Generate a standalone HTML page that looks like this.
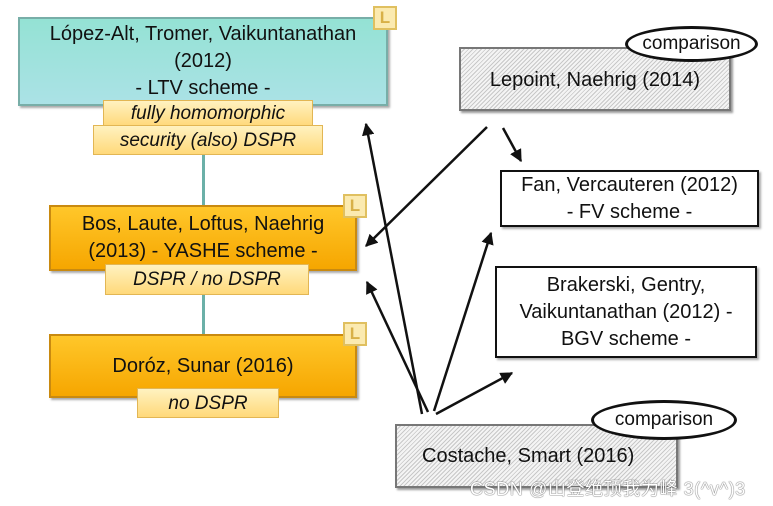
<!DOCTYPE html><html><head><meta charset="utf-8"><style>
body{margin:0;width:773px;height:506px;background:#fff;position:relative;overflow:hidden;font-family:"Liberation Sans",sans-serif;color:#111}
.b{position:absolute;box-sizing:border-box;display:flex;align-items:center;justify-content:center;text-align:center;font-size:20px;line-height:27px}
.teal{background:linear-gradient(#94e2d4,#abe2e6);border:2px solid #78aea8;box-shadow:2px 2px 2px #aaa}
.or{background:linear-gradient(#ffc72a,#f6a600);border:2px solid #c98a10;box-shadow:2px 2px 2px #aaa}
.lab{background:linear-gradient(#fff2c0,#ffd97a);border:1.5px solid #e2b654;font-style:italic;font-size:19px}
.w{background:#fff;border:2px solid #111;box-shadow:2px 2px 2px #aaa}
.h{border:2px solid #777;background:repeating-linear-gradient(135deg,#f4f4f4 0 2px,#c8c8c8 2px 3px);box-shadow:2px 2px 2px #999}
.L{position:absolute;width:24px;height:24px;box-sizing:border-box;background:#fbeab0;border:2px solid #e0c060;color:#d8b048;font-weight:bold;font-size:17px;text-align:center;line-height:20px}
.el{position:absolute;box-sizing:border-box;border:3px solid #111;border-radius:50%;background:#fff;font-size:19px;display:flex;align-items:center;justify-content:center}
</style></head><body>
<div style="position:absolute;left:202px;top:155px;width:3px;height:50px;background:#6bb0a8"></div>
<div style="position:absolute;left:202px;top:295px;width:3px;height:40px;background:#6bb0a8"></div>
<div class="b teal" style="left:18px;top:17px;width:370px;height:89px">López-Alt, Tromer, Vaikuntanathan<br>(2012)<br>- LTV scheme -</div>
<div class="L" style="left:373px;top:6px">L</div>
<div class="b lab" style="left:103px;top:100px;width:210px;height:27px">fully homomorphic</div>
<div class="b lab" style="left:93px;top:125px;width:230px;height:30px">security (also) DSPR</div>
<div class="b or" style="left:49px;top:205px;width:308px;height:66px">Bos, Laute, Loftus, Naehrig<br>(2013) - YASHE scheme -</div>
<div class="L" style="left:343px;top:194px">L</div>
<div class="b lab" style="left:105px;top:264px;width:204px;height:31px">DSPR / no DSPR</div>
<div class="b or" style="left:49px;top:334px;width:308px;height:64px">Doróz, Sunar (2016)</div>
<div class="L" style="left:343px;top:322px">L</div>
<div class="b lab" style="left:137px;top:388px;width:142px;height:30px">no DSPR</div>
<div class="b h" style="left:459px;top:47px;width:272px;height:64px;padding-top:2px">Lepoint, Naehrig (2014)</div>
<div class="el" style="left:625px;top:26px;width:133px;height:36px">comparison</div>
<div class="b w" style="left:500px;top:170px;width:259px;height:57px">Fan, Vercauteren (2012)<br>- FV scheme -</div>
<div class="b w" style="left:495px;top:266px;width:262px;height:92px">Brakerski, Gentry,<br>Vaikuntanathan (2012) -<br>BGV scheme -</div>
<div class="b h" style="left:395px;top:424px;width:283px;height:64px;justify-content:flex-start;padding-left:25px">Costache, Smart (2016)</div>
<div class="el" style="left:591px;top:400px;width:146px;height:40px">comparison</div>
<svg style="position:absolute;left:0;top:0" width="773" height="506"><defs><marker id="a" viewBox="0 0 10 10" refX="9" refY="5" markerWidth="5" markerHeight="5" orient="auto"><path d="M0,0L10,5L0,10z" fill="#111"/></marker></defs>
<g stroke="#111" stroke-width="2.5" fill="none" marker-end="url(#a)">
<line x1="487" y1="127" x2="366" y2="246"/>
<line x1="503" y1="128" x2="521" y2="161"/>
<line x1="422" y1="414" x2="366" y2="124"/>
<line x1="428" y1="412" x2="367" y2="282"/>
<line x1="434" y1="411" x2="491" y2="233"/>
<line x1="436" y1="414" x2="512" y2="373"/>
</g></svg>
<div style="position:absolute;left:470px;top:475px;font-size:18px;letter-spacing:0.6px;color:#fff;text-shadow:0 0 1px #555,0 0 1px #555;font-family:'Liberation Sans','Noto Sans CJK SC',sans-serif">CSDN @山登绝顶我为峰 3(^v^)3</div>
</body></html>
